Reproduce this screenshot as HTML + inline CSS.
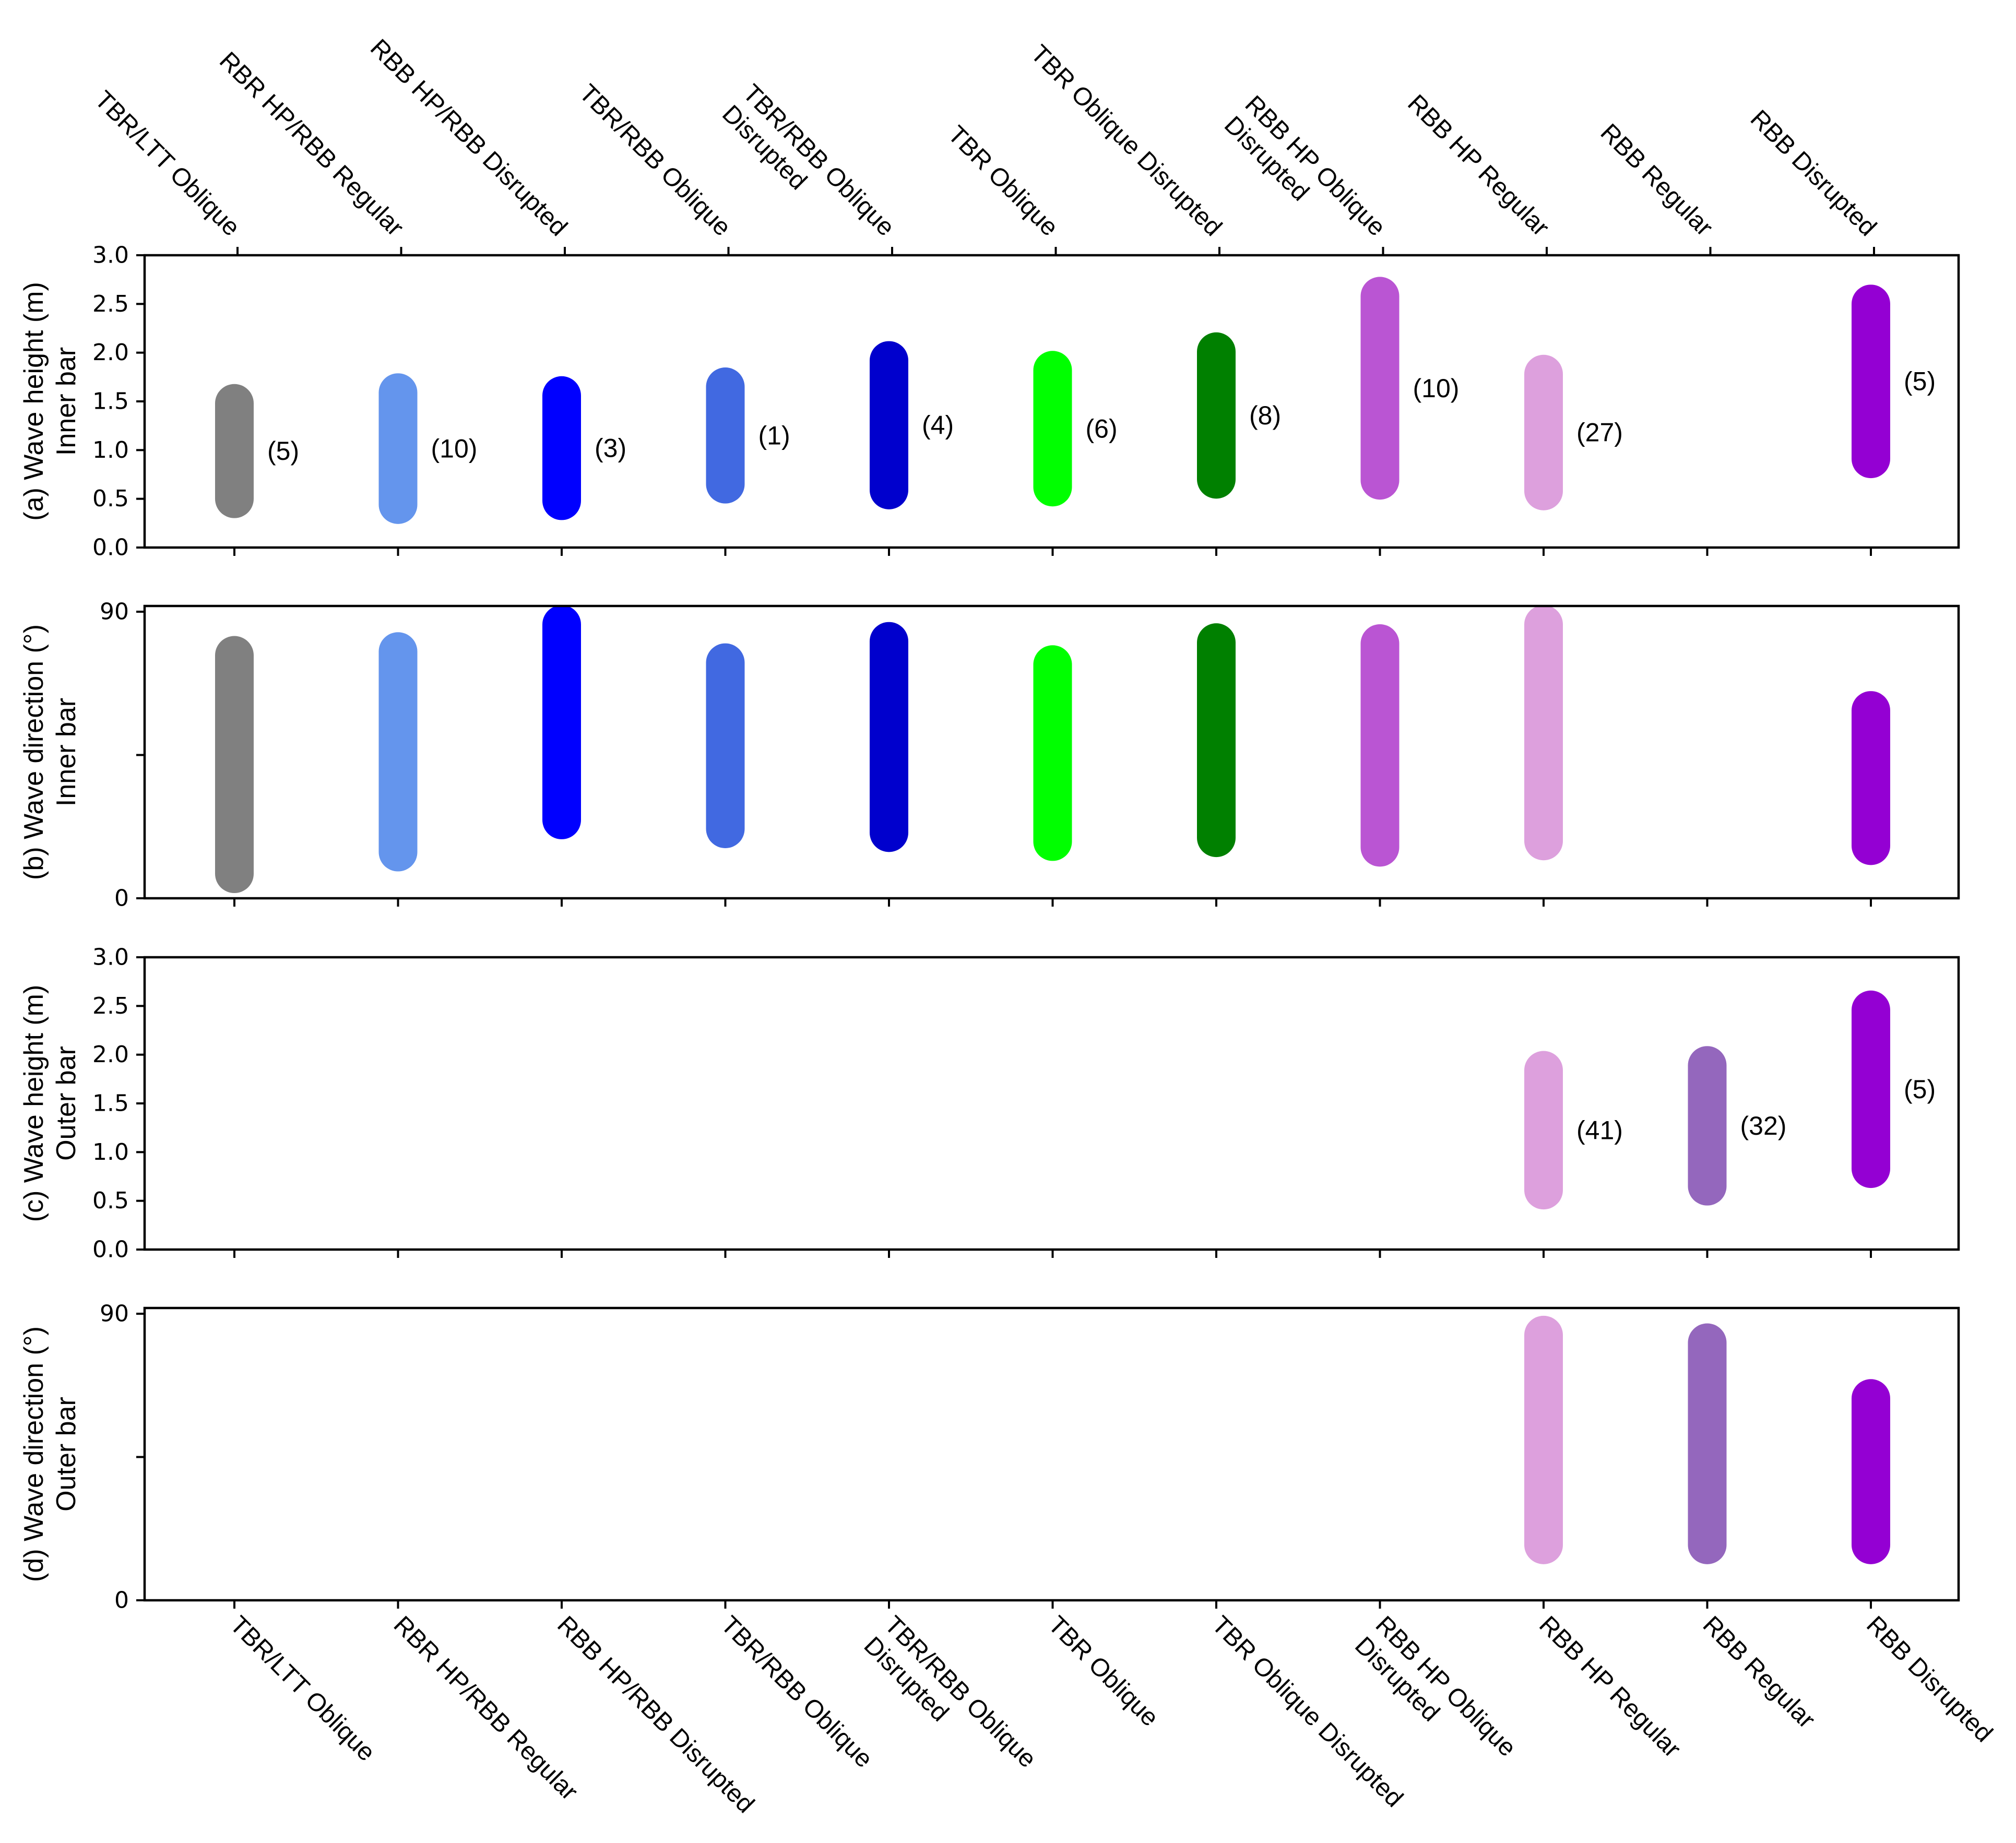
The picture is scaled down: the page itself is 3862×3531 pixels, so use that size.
<!DOCTYPE html>
<html><head><meta charset="utf-8">
<style>
html,body{margin:0;padding:0;background:#fff;}
svg{display:block;}
text{font-family:"Liberation Sans",sans-serif;fill:#000;}
.tick{font-family:"DejaVu Sans","Liberation Sans",sans-serif;font-size:44px;}
</style></head>
<body>
<svg id="chart" width="3862" height="3531" viewBox="0 0 3862 3531" xmlns="http://www.w3.org/2000/svg"></svg>
<script>
const categories = ["TBR/LTT Oblique","RBR HP/RBB Regular","RBB HP/RBB Disrupted","TBR/RBB Oblique","TBR/RBB Oblique\nDisrupted","TBR Oblique","TBR Oblique Disrupted","RBB HP Oblique\nDisrupted","RBB HP Regular","RBB Regular","RBB Disrupted"];
const colors = ["#808080","#6495ED","#0000FF","#4169E1","#0000CD","#00FF00","#008000","#BA55D3","#DDA0DD","#9467BD","#9400D3"];
// panel a: inner bar wave height [low, high] (null = no data)
const innerHeightLow  = [0.50,0.44,0.48,0.65,0.59,0.62,0.70,0.69,0.58,null,0.91];
const innerHeightHigh = [1.48,1.59,1.56,1.65,1.92,1.82,2.01,2.58,1.78,null,2.50];
const innerHeightCount = ["(5)","(10)","(3)","(1)","(4)","(6)","(8)","(10)","(27)",null,"(5)"];
// panel b: inner bar wave direction
const innerDirLow  = [7.7,14.5,24.6,21.8,20.6,17.8,19,16,18,null,16.5];
const innerDirHigh = [76.3,77.5,86,74,80.7,73.4,80.3,80,86,null,59];
// panel c: outer bar wave height
const outerHeightLow  = [null,null,null,null,null,null,null,null,0.61,0.65,0.83];
const outerHeightHigh = [null,null,null,null,null,null,null,null,1.84,1.89,2.46];
const outerHeightCount = [null,null,null,null,null,null,null,null,"(41)","(32)","(5)"];
// panel d: outer bar wave direction
const outerDirLow  = [null,null,null,null,null,null,null,null,17.4,17.4,17.4];
const outerDirHigh = [null,null,null,null,null,null,null,null,83.3,80.9,63.4];
const heightTicks = ["0.0","0.5","1.0","1.5","2.0","2.5","3.0"];
const dirTicks = ["0","90"];

const NS="http://www.w3.org/2000/svg";
const svg=document.getElementById('chart');
function mk(tag,attrs,parent){const e=document.createElementNS(NS,tag);for(const k in attrs)e.setAttribute(k,attrs[k]);(parent||svg).appendChild(e);return e;}

const L=277,R=3752,H=560;
const tops=[489,1161,1834,2506];
function xPos(i){return 449+313.5*i;}

const panels=[
 {name:'inner-height',lo:innerHeightLow,hi:innerHeightHigh,cnt:innerHeightCount,max:3.0,kind:'h',t1:'(a) Wave height (m)',t2:'Inner bar'},
 {name:'inner-direction',lo:innerDirLow,hi:innerDirHigh,cnt:null,max:91.8,kind:'d',t1:'(b) Wave direction (°)',t2:'Inner bar'},
 {name:'outer-height',lo:outerHeightLow,hi:outerHeightHigh,cnt:outerHeightCount,max:3.0,kind:'h',t1:'(c) Wave height (m)',t2:'Outer bar'},
 {name:'outer-direction',lo:outerDirLow,hi:outerDirHigh,cnt:null,max:91.8,kind:'d',t1:'(d) Wave direction (°)',t2:'Outer bar'}
];

panels.forEach((p,pi)=>{
  const top=tops[pi],bot=top+H;
  const y=v=>bot-(v/p.max)*H;
  const g=mk('g',{});
  
  
  for(let i=0;i<categories.length;i++){
    if(p.lo[i]==null)continue;
    const ln=mk('line',{x1:xPos(i),x2:xPos(i),y1:y(p.lo[i]),y2:y(p.hi[i]),stroke:colors[i],'stroke-width':74,'stroke-linecap':'round'},g);
    
    
    if(p.cnt&&p.cnt[i]){
      const t=mk('text',{x:xPos(i)+63,y:(y(p.lo[i])+y(p.hi[i]))/2,'font-size':50,'dominant-baseline':'central'},g);
      t.textContent=p.cnt[i];
      
      
    }
  }
  const fr=mk('rect',{x:L,y:top,width:R-L,height:H,fill:'none',stroke:'#000','stroke-width':4.5},g);
  
  
  for(let i=0;i<categories.length;i++){
    mk('line',{x1:xPos(i),x2:xPos(i),y1:bot,y2:bot+16,stroke:'#000','stroke-width':4},g);
  }
  if(p.kind==='h'){
    heightTicks.forEach(tl=>{
      const v=parseFloat(tl),yy=y(v);
      mk('line',{x1:L-16,x2:L,y1:yy,y2:yy,stroke:'#000','stroke-width':4},g);
      const t=mk('text',{x:L-30,y:yy,'text-anchor':'end','dominant-baseline':'central',class:'tick'},g);
      t.textContent=tl;
      
      
    });
  } else {
    [0,45,90].forEach(v=>{const yy=y(v);mk('line',{x1:L-16,x2:L,y1:yy,y2:yy,stroke:'#000','stroke-width':4},g);});
    dirTicks.forEach(tl=>{
      const yy=y(parseFloat(tl));
      const t=mk('text',{x:L-30,y:yy,'text-anchor':'end','dominant-baseline':'central',class:'tick'},g);
      t.textContent=tl;
      
      
    });
  }
  const cy=top+H/2;
  const t1=mk('text',{x:0,y:0,'font-size':52,'text-anchor':'middle',transform:`translate(82,${cy}) rotate(-90)`},g);
  t1.textContent=p.t1;
  
  
  const t2=mk('text',{x:0,y:0,'font-size':52,'text-anchor':'middle',transform:`translate(144,${cy}) rotate(-90)`},g);
  t2.textContent=p.t2;
  
  
});

const topG=mk('g',{});


categories.forEach((c,i)=>{
  const x=xPos(i)+6;
  mk('line',{x1:x,x2:x,y1:tops[0],y2:tops[0]-16,stroke:'#000','stroke-width':4},topG);
  const lines=c.split('\n');
  const g=mk('g',{transform:`translate(${x-15},455) rotate(45)`},topG);
  const a=mk('text',{x:0,y:0,'font-size':48,'text-anchor':'end'},g);
  a.textContent=lines[0];
  
  
  if(lines[1]){
    const w=a.getComputedTextLength();
    const b=mk('text',{x:-w,y:56,'font-size':48,'text-anchor':'start'},g);
    b.textContent=lines[1];
    
    
  }
});
const botG=mk('g',{});


categories.forEach((c,i)=>{
  const x=xPos(i);
  const lines=c.split('\n');
  const g=mk('g',{transform:`translate(${x-11},3116) rotate(45)`},botG);
  lines.forEach((ln,k)=>{
    const t=mk('text',{x:0,y:k*56,'font-size':48},g);
    t.textContent=ln;
    
    
  });
});
</script>
</body></html>
